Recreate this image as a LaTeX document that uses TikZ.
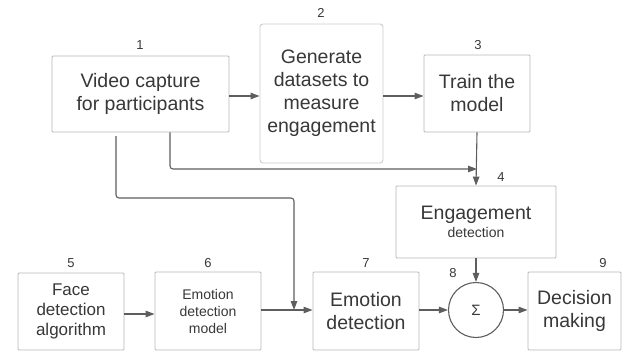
\documentclass[tikz,border=0pt]{standalone}
\usepackage{fontspec}
\setmainfont{Liberation Sans}
\usetikzlibrary{arrows.meta}
\definecolor{boxline}{HTML}{B8B8B8}
\definecolor{conn}{HTML}{5E5E5E}
\definecolor{txt}{HTML}{383838}
\tikzset{
  stepbox/.style={draw=boxline, line width=0.9pt, fill=white, text=txt, align=center, inner sep=0pt, rounded corners=1pt},
  big/.style={font=\fontsize{19.5}{23}\selectfont},
  mid/.style={font=\fontsize{17}{20}\selectfont},
  small/.style={font=\fontsize{14}{17}\selectfont},
  num/.style={text=txt, font=\fontsize{13}{15}\selectfont, inner sep=0pt},
  arr/.style={draw=conn, line width=1.1pt, -{Triangle[length=9pt,width=6.5pt]}},
}
\begin{document}
\begin{tikzpicture}[x=1pt,y=-1pt]
\useasboundingbox (0,0) rectangle (626,351);
\node[stepbox, big, minimum width=177pt, minimum height=76pt] (b1) at (140.5,94) {Video capture\\for participants};
\node[stepbox, big, minimum width=123pt, minimum height=139pt, draw=boxline!70, rounded corners=3pt] (b2) at (321.5,93.5) {Generate\\datasets to\\measure\\engagement};
\node[stepbox, big, minimum width=106pt, minimum height=77pt] (b3) at (477,93.5) {Train the\\model};
\node[stepbox, big, minimum width=160pt, minimum height=72pt] (b4) at (476,222) {Engagement\\[-5pt]{\fontsize{14}{17}\selectfont detection}};
\node[stepbox, mid, minimum width=106pt, minimum height=77pt] (b5) at (71,311.5) {Face\\detection\\algorithm};
\node[stepbox, small, minimum width=106pt, minimum height=78pt] (b6) at (208,311) {Emotion\\detection\\model};
\node[stepbox, big, minimum width=106pt, minimum height=78pt] (b7) at (366,311) {Emotion\\detection};
\node[circle, draw=conn, line width=1.1pt, minimum size=55pt, inner sep=0pt, text=txt, font=\fontsize{15}{17}\selectfont] (s) at (476,310) {Σ};
\node[stepbox, big, minimum width=93pt, minimum height=78pt] (b9) at (574.5,311) {Decision\\making};

\node[num] (n1) at (140,45) {1};
\node[num] (n2) at (321,13) {2};
\node[num] (n3) at (478,45) {3};
\node[num] (n4) at (501,177) {4};
\node[num] (n5) at (71,263) {5};
\node[num] (n6) at (208,263) {6};
\node[num] (n7) at (366,263) {7};
\node[num] (n8) at (453,273) {8};
\node[num] (n9) at (603,263) {9};

\coordinate (j1) at (477,169);
\coordinate (j2) at (294,310);

\draw[arr] (b1.east |- 0,96) -- (b2.west |- 0,96);
\draw[arr] (b2.east |- 0,96) -- (b3.west |- 0,96);
\draw[arr] (b3.south) -- (b4.north);
\draw[arr, rounded corners=3pt] (b1.south -| 170,0) |- (j1);
\draw[arr, rounded corners=3pt] (116,136) |- (294,198) -- (j2);
\draw[arr] (b5.east |- 0,314) -- (b6.west |- 0,314);
\draw[arr] (b6.east |- 0,310) -- (b7.west |- 0,310);
\draw[arr] (b7.east |- s) -- (s.west);
\draw[arr] (s.east) -- (b9.west |- s);
\draw[arr] (b4.south -| s) -- (s.north);
\end{tikzpicture}
\end{document}
